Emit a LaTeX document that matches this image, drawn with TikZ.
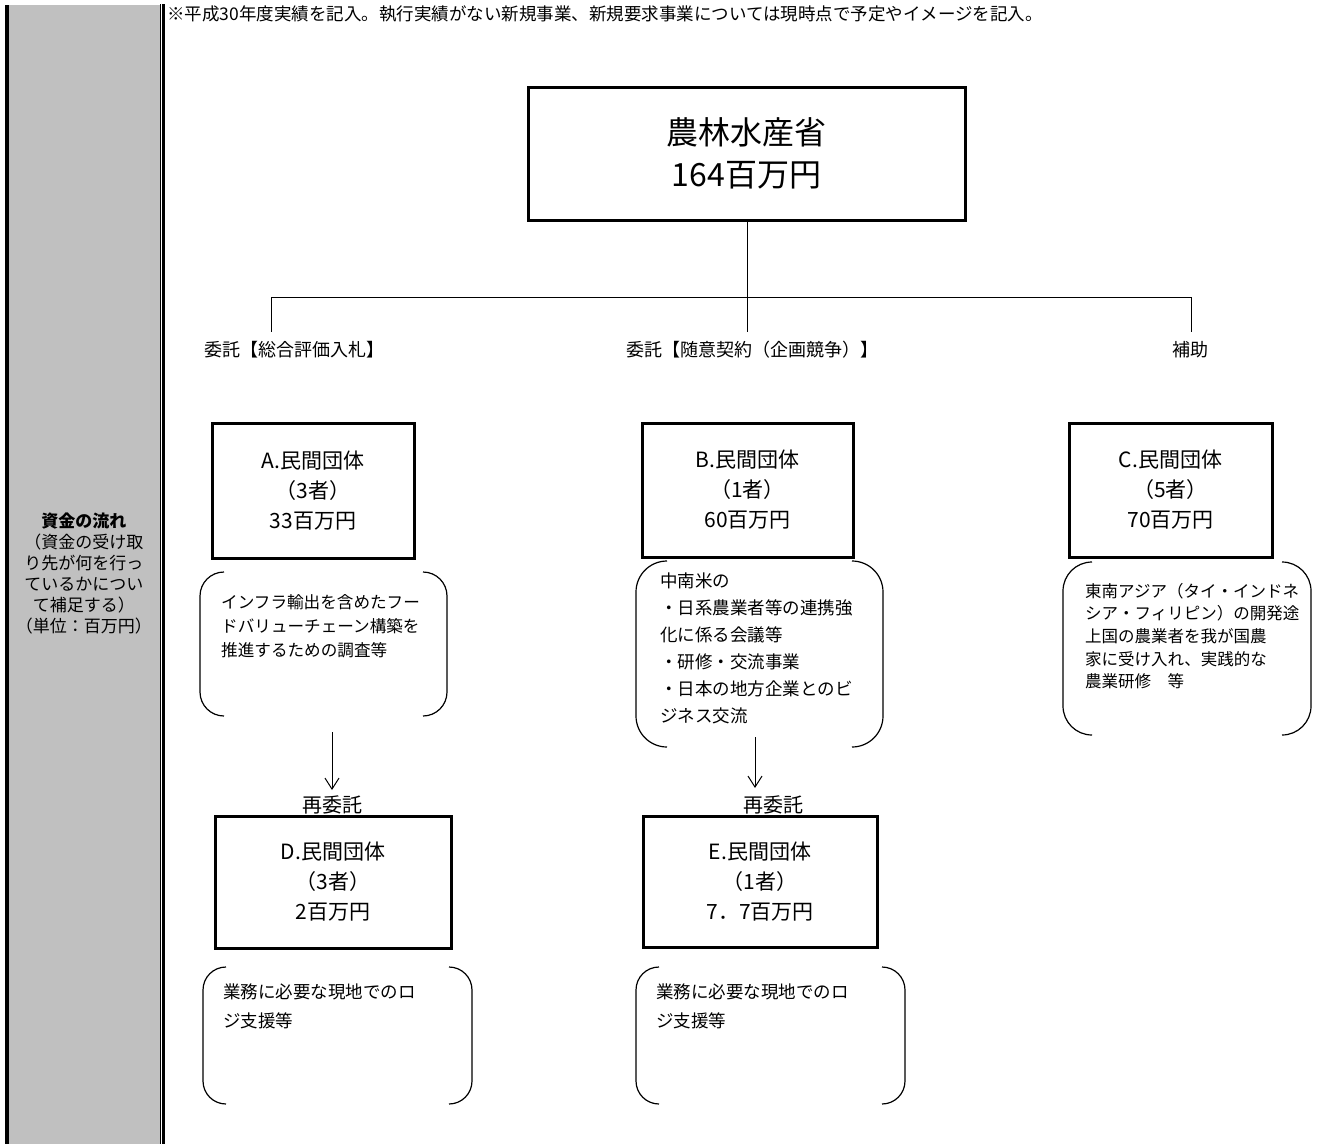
\documentclass[tikz,border=0pt]{standalone}
\usepackage{fontspec}
\setmainfont{Noto Sans CJK JP}
\usetikzlibrary{arrows.meta}
\definecolor{panelgray}{HTML}{C0C0C0}
\newcommand\brpair[2]{%
  \draw[brk,rounded corners=#2] ([xshift=#2]#1.north west) -- (#1.north west) -- (#1.south west) -- ([xshift=#2]#1.south west);
  \draw[brk,rounded corners=#2] ([xshift=-#2]#1.north east) -- (#1.north east) -- (#1.south east) -- ([xshift=-#2]#1.south east);}
\begin{document}
\begin{tikzpicture}[x=1pt,y=-1pt,
  box/.style={draw,line width=3pt,inner sep=0pt,align=center,font=\fontsize{21}{30}\selectfont},
  frame/.style={draw=none,inner sep=0pt,outer sep=0pt},
  brk/.style={line width=1.2pt},
  conn/.style={line width=1pt},
  arr/.style={line width=1pt,-{Straight Barb[length=11pt,width=14pt]}},
  btext/.style={inner sep=0pt,align=left,anchor=north west},
  lbl/.style={inner sep=0pt,font=\fontsize{18}{18}\selectfont},
  sub/.style={inner sep=0pt,font=\fontsize{20}{20}\selectfont}]
\path[use as bounding box] (0,0) rectangle (1339,1144);
% left panel
\fill[panelgray] (9,5) rectangle (160,1144);
\draw[line width=4pt] (7,5) -- (7,1144);
\draw[line width=1.2pt] (160.5,4) -- (160.5,1144);
\draw[line width=3pt] (163.5,4) -- (163.5,1144);
\node[inner sep=0pt,align=center,anchor=north,font=\fontsize{17}{21}\selectfont] (side) at (84,512.5)
  {{\bfseries 資金の流れ}\\（資金の受け取\\り先が何を行っ\\ているかについ\\て補足する）\\（単位：百万円）};
% note
\node[inner sep=0pt,anchor=west,font=\fontsize{17.5}{17.5}\selectfont] (note) at (167,14)
  {※平成30年度実績を記入。執行実績がない新規事業、新規要求事業については現時点で予定やイメージを記入。};
% top box
\node[box,minimum width=437,minimum height=133,font=\fontsize{32}{42}\selectfont] (top) at (746.5,153.5) {農林水産省\\164百万円};
% connectors
\coordinate (jM) at (747,297);
\coordinate (jL) at (271,297);
\coordinate (jR) at (1191,297);
\coordinate (dL) at (271,332);
\coordinate (dM) at (747,332);
\coordinate (dR) at (1191,332);
\draw[conn] (top.south -| jM) -- (jM);
\draw[conn] (jL) -- (jR);
\draw[conn] (jL) -- (dL);
\draw[conn] (jM) -- (dM);
\draw[conn] (jR) -- (dR);
% labels
\node[lbl] (l1) at (294,350) {委託【総合評価入札】};
\node[lbl] (l2) at (752,350) {委託【随意契約（企画競争）】};
\node[lbl] (l3) at (1190,350) {補助};
% boxes
\node[box,minimum width=202,minimum height=135] (A) at (313,490.5) {A.民間団体\\（3者）\\33百万円};
\node[box,minimum width=211,minimum height=134] (B) at (747.5,490) {B.民間団体\\（1者）\\60百万円};
\node[box,minimum width=203,minimum height=134] (C) at (1170.5,490) {C.民間団体\\（5者）\\70百万円};
\node[box,minimum width=236,minimum height=132] (D) at (333,882) {D.民間団体\\（3者）\\2百万円};
\node[box,minimum width=234,minimum height=131] (E) at (760,881.5) {E.民間団体\\（1者）\\7．7百万円};
% brackets
\node[frame,minimum width=247,minimum height=144] (bA) at (323.5,644) {};
\node[frame,minimum width=247,minimum height=186] (bB) at (759.5,654) {};
\node[frame,minimum width=248,minimum height=173] (bC) at (1187,648.5) {};
\node[frame,minimum width=269,minimum height=137] (bD) at (337.5,1035.5) {};
\node[frame,minimum width=269,minimum height=137] (bE) at (770.5,1035.5) {};
\brpair{bA}{24pt}
\brpair{bB}{31pt}
\brpair{bC}{29pt}
\brpair{bD}{23pt}
\brpair{bE}{23pt}
\node[btext,font=\fontsize{16.6}{24}\selectfont] (tA) at (221,594) {インフラ輸出を含めたフー\\ドバリューチェーン構築を\\推進するための調査等};
\node[btext,font=\fontsize{17.5}{27}\selectfont] (tB) at (660,573) {中南米の\\・日系農業者等の連携強\\化に係る会議等\\・研修・交流事業\\・日本の地方企業とのビ\\ジネス交流};
\node[btext,font=\fontsize{16.5}{22.6}\selectfont] (tC) at (1085,583) {東南アジア（タイ・インドネ\\シア・フィリピン）の開発途\\上国の農業者を我が国農\\家に受け入れ、実践的な\\農業研修　等};
\node[btext,font=\fontsize{17.5}{29}\selectfont] (tD) at (223,984) {業務に必要な現地でのロ\\ジ支援等};
\node[btext,font=\fontsize{17.5}{29}\selectfont] (tE) at (656,984) {業務に必要な現地でのロ\\ジ支援等};
% arrows
\coordinate (aA0) at (332,732);
\coordinate (aA1) at (332,790);
\coordinate (aB0) at (755,737);
\coordinate (aB1) at (755,788);
\draw[arr] (aA0) -- (aA1);
\draw[arr] (aB0) -- (aB1);
\node[sub] (rA) at (332,805) {再委託};
\node[sub] (rB) at (773,805) {再委託};
\end{tikzpicture}
\end{document}
